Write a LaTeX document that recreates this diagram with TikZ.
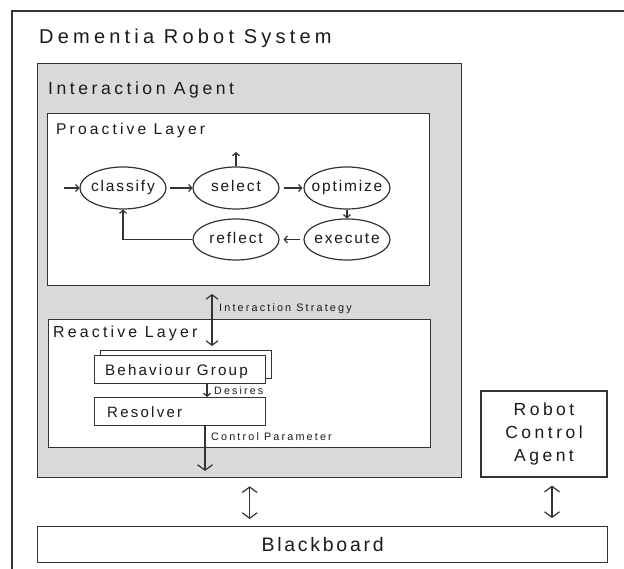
\documentclass[tikz,border=0pt]{standalone}
\usepackage{fontspec}
\setmainfont{Liberation Sans}
\usetikzlibrary{arrows.meta,shapes.geometric}
\definecolor{ln}{HTML}{333333}
\definecolor{gfill}{HTML}{D9D9D9}
\definecolor{tx}{HTML}{1A1A1A}
\newcommand{\myls}[2]{\fontsize{#1}{#1}\selectfont\addfontfeature{LetterSpace=#2}}
\tikzset{
  box/.style={draw=ln, line width=1.3pt, fill=white, inner sep=0pt, anchor=north west},
  ell/.style={draw=ln, line width=1.2pt, ellipse, minimum width=86pt, minimum height=42pt,
              inner sep=0pt, text height=11pt, text depth=3.3pt, font=\myls{15.5}{12}, text=tx},
  lab/.style={anchor=base west, inner sep=0pt, text=tx},
  tipS/.tip={Straight Barb[length=3pt,width=7pt]},
  tipM/.tip={Straight Barb[length=4.5pt,width=12pt]},
  tipL/.tip={Straight Barb[length=5.5pt,width=15pt]},
  arr/.style={draw=ln, line width=1.2pt, -tipS},
  arrL/.style={draw=ln, line width=1.2pt, -tipL},
  dblM/.style={draw=ln, line width=1.2pt, tipM-tipM},
  dblL/.style={draw=ln, line width=1.2pt, tipL-tipL},
}
\begin{document}
\begin{tikzpicture}[x=1pt,y=-1pt]
\useasboundingbox (0,0) rectangle (624,569);
% outer system frame (cut by the page on the right and bottom)
\draw[ln, line width=1.3pt] (12,575) -- (12,11) -- (630,11);
\node[lab, font=\myls{20}{21}] (title) at (39,43.3) {Dementia Robot System};

% Interaction Agent
\node[box, fill=gfill, minimum width=424pt, minimum height=414pt] (ia) at (37,63) {};
\node[lab, font=\myls{17.6}{20}] (iat) at (48,95) {Interaction Agent};

% Proactive layer
\node[box, minimum width=382pt, minimum height=172pt] (pl) at (47,113) {};
\node[lab, font=\myls{15.6}{20}] (plt) at (56,134.3) {Proactive Layer};
\node[ell] (cl) at (123,188) {\makebox[0pt]{classify}};
\node[ell] (se) at (236,188) {\makebox[0pt]{select}};
\node[ell] (op) at (347,188) {\makebox[0pt]{optimize}};
\node[ell, minimum height=41pt] (ex) at (347,239.5) {\makebox[0pt]{execute}};
\node[ell, minimum height=41pt] (rf) at (236,239.5) {\makebox[0pt]{reflect}};
\coordinate (in) at (64,188);
\coordinate (up) at (236,152);
\draw[arr] (in) -- (cl.west);
\draw[arr, shorten <=3pt] (cl.east) -- (se.west);
\draw[arr, shorten <=4pt, shorten >=1pt] (se.east) -- (op.west);
\draw[arr] (se.north) -- (up);
\draw[arr] (op.south) -- (ex.north);
\draw[arr, shorten <=3pt, shorten >=4pt] (ex.west) -- (rf.east);
\draw[arr] (rf.west) -| (cl.south);

% Reactive layer
\node[box, minimum width=382pt, minimum height=128pt] (rl) at (48,319) {};
\node[lab, font=\myls{15.9}{20}] (rlt) at (53,337.5) {Reactive Layer};
\node[box, minimum width=171pt, minimum height=28pt] (bgb) at (100,350) {};
\node[box, minimum width=171pt, minimum height=28pt] (bg) at (94,355) {};
\node[lab, font=\myls{15.2}{14}] (bgt) at (105,376) {Behaviour Group};
\node[box, minimum width=171pt, minimum height=28pt] (rs) at (94,397) {};
\node[lab, font=\myls{15}{15}] (rst) at (107,417) {Resolver};

% Interaction strategy (between the two layers)
\coordinate (is1) at (212,294);
\coordinate (is2) at (212,346);
\draw[dblM] (is1) -- (is2);
\node[lab, font=\myls{10.8}{20}] (ist) at (219,311.7) {Interaction Strategy};

\coordinate (dx) at (207,0);
\draw[arr] (bg.south -| dx) -- (rs.north -| dx);
\node[lab, font=\myls{10.7}{20}] (dst) at (214,394) {Desires};
\coordinate (cpend) at (205,471);
\draw[arrL] (rs.south -| cpend) -- (cpend);
\node[lab, font=\myls{10.8}{20}] (cpt) at (211,440.7) {Control Parameter};

% Robot Control Agent
\node[box, minimum width=126pt, minimum height=86pt, anchor=center, align=center,
      font=\fontsize{17.5}{23.3}\selectfont\addfontfeature{LetterSpace=20}, text=tx] (rca) at (544,434) {Robot\\Control\\Agent};

% Blackboard
\node[box, minimum width=570pt, minimum height=36pt, font=\myls{19.5}{14}, text=tx] (bb) at (37,526) {Blackboard};
\coordinate (rx) at (552,0);
\draw[dblL, shorten <=8pt, shorten >=7pt] (ia.south) -- (ia.south |- bb.north);
\draw[dblL, shorten <=8pt, shorten >=8pt] (rca.south -| rx) -- (bb.north -| rx);
\end{tikzpicture}
\end{document}
